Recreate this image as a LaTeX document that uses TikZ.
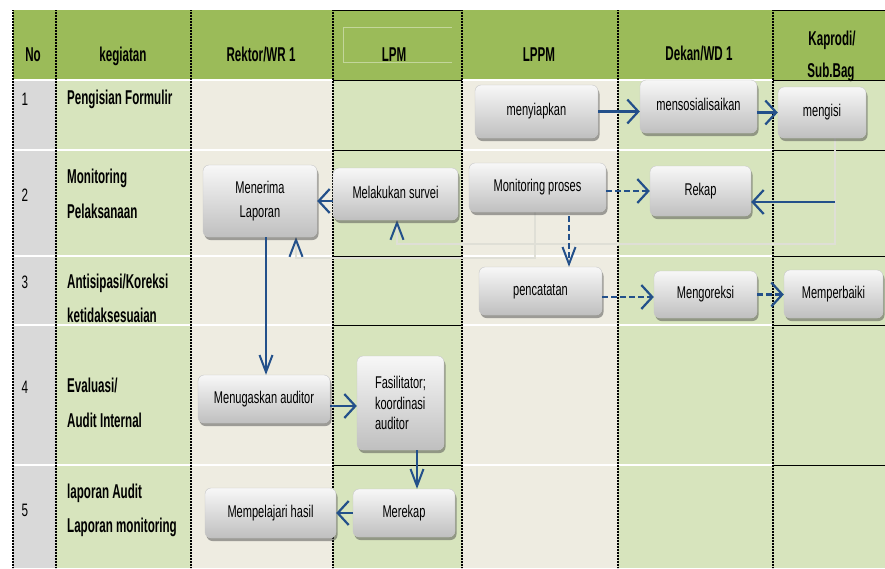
\documentclass[tikz,border=0pt]{standalone}
\usepackage{fontspec}
\setmainfont{Liberation Sans}
\newfontfamily\hdf[FakeStretch=0.58]{Liberation Sans}
\newfontfamily\bxf[FakeStretch=0.65]{Liberation Sans}
\usetikzlibrary{arrows.meta,shadows}
\definecolor{hdr}{HTML}{9BBB59}
\definecolor{lgr}{HTML}{D7E4BD}
\definecolor{bei}{HTML}{EEECE1}
\definecolor{gry}{HTML}{D9D9D9}
\definecolor{navy}{HTML}{23508A}
\definecolor{faint}{HTML}{DFDFD6}
\begin{document}
\begin{tikzpicture}[x=1pt,y=-1pt,
  bx/.style={draw=black!22, line width=0.4pt, rounded corners=6pt,
    top color=black!3, bottom color=black!25,
    drop shadow={shadow xshift=1.5pt, shadow yshift=-3pt, opacity=0.5, fill=black!70},
    font=\bxf\fontsize{17}{20}\selectfont, inner sep=0pt, align=center},
  bxs/.style={bx, text height=12pt, text depth=3.5pt},
  hd/.style={font=\hdf\bfseries\fontsize{20}{24}\selectfont, anchor=base, inner sep=0pt},
  kg/.style={font=\hdf\bfseries\fontsize{20}{24}\selectfont, anchor=base west, inner sep=0pt},
  num/.style={font=\bxf\fontsize{18}{20}\selectfont, anchor=base, inner sep=0pt},
  vl/.style={black, line width=1.1pt, dash pattern=on 0.9pt off 0.6pt},
  wl/.style={white, line width=1.2pt},
  bl/.style={black, line width=1pt},
  ha/.style={navy, line width=2.2pt, -{Straight Barb[length=11pt, width=24pt]}},
  va/.style={navy, line width=2pt, -{Straight Barb[length=17pt, width=13pt]}},
  dsh/.style={dash pattern=on 6pt off 3pt},
  fl/.style={faint, line width=2.5pt, -{Straight Barb[length=17pt, width=13pt, color=navy, line width=2pt]}},
]
\useasboundingbox (0,0) rectangle (885,568);
% backgrounds
\fill[white] (0,0) rectangle (885,568);
\fill[hdr] (13,10) rectangle (885,80);
\fill[gry] (13,80) rectangle (56,568);
\fill[lgr] (56,80) rectangle (191,568);
\fill[bei] (191,80) rectangle (333,568);
\fill[lgr] (333,80) rectangle (462,568);
\fill[bei] (462,80) rectangle (618,568);
\fill[lgr] (618,80) rectangle (885,568);
% LPM header inner frame
\draw[hdr!60!white, line width=0.7pt] (452,27) -- (343,27) -- (343,62) -- (452,62);
% row separators
\foreach \y in {80,150,256,325,465} {
  \draw[wl] (13,\y) -- (333,\y);
  \draw[wl] (462,\y) -- (773,\y);
}
\foreach \y in {10,80,150,256,325,465} {
  \draw[bl] (333,\y) -- (462,\y);
  \draw[bl] (773,\y) -- (885,\y);
}
% column separators
\foreach \x in {13,56,191,333,462,618,773} {
  \draw[vl] (\x,10) -- (\x,568);
}
% header
\node[hd] (hNo) at (33,61) {No};
\node[hd] (hKeg) at (123,61) {kegiatan};
\node[hd] (hRek) at (261,61) {Rektor/WR 1};
\node[hd] (hLPM) at (394,61) {LPM};
\node[hd] (hLPPM) at (539,61) {LPPM};
\node[hd] (hDek) at (699,60) {Dekan/WD 1};
\node[hd] (hKap1) at (832,45) {Kaprodi/};
\node[hd] (hKap2) at (831,77) {Sub.Bag};
% numbers
\node[num] (n1) at (25,105) {1};
\node[num] (n2) at (25,201) {2};
\node[num] (n3) at (25,288) {3};
\node[num] (n4) at (25,393) {4};
\node[num] (n5) at (25,516) {5};
% kegiatan
\node[kg] (k1) at (67,104) {Pengisian Formulir};
\node[kg] (k2a) at (67,183) {Monitoring};
\node[kg] (k2b) at (67,218) {Pelaksanaan};
\node[kg] (k3a) at (67,288) {Antisipasi/Koreksi};
\node[kg] (k3b) at (67,322) {ketidaksesuaian};
\node[kg] (k4a) at (67,392) {Evaluasi/};
\node[kg] (k4b) at (67,427) {Audit Internal};
\node[kg] (k5a) at (67,498) {laporan Audit};
\node[kg] (k5b) at (67,532) {Laporan monitoring};
% coordinates for faint connectors (drawn under boxes)
\coordinate (mpS) at (535,212);
\coordinate (mgS) at (835,138);
\coordinate (mnS) at (296,237);
\coordinate (mlS) at (397,220);
\coordinate (kp) at (835,202);
\draw[fl] (mpS) -- ++(0,46) -| (mnS);
\draw[fl] (mgS) -- ++(0,106) -| (mlS);
% boxes
\node[bxs, minimum width=123pt, minimum height=53pt] (menyiapkan) at (536.5,111.5) {menyiapkan};
\node[bxs, minimum width=117pt, minimum height=53pt] (sosial) at (698.5,106.5) {mensosialisaikan};
\node[bxs, minimum width=88pt, minimum height=51pt] (mengisi) at (822,112.5) {mengisi};
\node[bx, minimum width=114pt, minimum height=72pt, font=\bxf\fontsize{17}{24}\selectfont] (menerima) at (260,201) {Menerima\\Laporan};
\node[bxs, minimum width=125pt, minimum height=52pt] (melakukan) at (395.5,194) {Melakukan survei};
\node[bxs, minimum width=137pt, minimum height=49pt] (monitoring) at (537.5,187.5) {Monitoring proses};
\node[bxs, minimum width=123pt, minimum height=48pt] (pencatatan) at (540.5,291) {pencatatan};
\node[bxs, minimum width=101pt, minimum height=50pt] (rekap) at (700.5,191) {Rekap};
\node[bxs, minimum width=103pt, minimum height=47pt] (mengoreksi) at (705.5,294.5) {Mengoreksi};
\node[bxs, minimum width=99pt, minimum height=48pt] (memperbaiki) at (833.5,294) {Memperbaiki};
\node[bxs, minimum width=132pt, minimum height=48pt] (menugaskan) at (264,399) {Menugaskan auditor};
\node[bx, minimum width=87pt, minimum height=94pt, align=left, font=\bxf\fontsize{17}{20.5}\selectfont] (fasil) at (400.5,403) {Fasilitator;\\koordinasi\\auditor};
\node[bxs, minimum width=131pt, minimum height=50pt] (mempelajari) at (270.5,513) {Mempelajari hasil};
\node[bxs, minimum width=102pt, minimum height=48pt] (merekap) at (404,513) {Merekap};
% arrows
\draw[ha] (menyiapkan.east) -- (menyiapkan.east -| sosial.west);
\draw[ha] (sosial.east |- mengisi.west) -- (mengisi.west);
\draw[ha] (melakukan.west |- menerima.east) -- (menerima.east);
\draw[ha, dsh] (monitoring.east |- rekap.west) -- (rekap.west);
\draw[ha] (kp) -- (kp -| rekap.east);
\draw[va, dsh] ([xshift=31.5pt, yshift=-4pt]monitoring.south) -- ([xshift=31.5pt]monitoring.south |- pencatatan.north);
\draw[ha, dsh] ([yshift=-6pt]pencatatan.east) -- ([yshift=-6pt]pencatatan.east -| mengoreksi.west);
\draw[ha, dsh] (mengoreksi.east) -- (mengoreksi.east -| memperbaiki.west);
\draw[va] ([xshift=6pt]menerima.south) -- ([xshift=6pt]menerima.south |- menugaskan.north);
\draw[ha] ([yshift=-7pt]menugaskan.east) -- ([yshift=-7pt]menugaskan.east -| fasil.west);
\draw[va] ([xshift=16.5pt]fasil.south) -- ([xshift=16.5pt]fasil.south |- merekap.north);
\draw[ha] (merekap.west) -- (merekap.west -| mempelajari.east);
\end{tikzpicture}
\end{document}
